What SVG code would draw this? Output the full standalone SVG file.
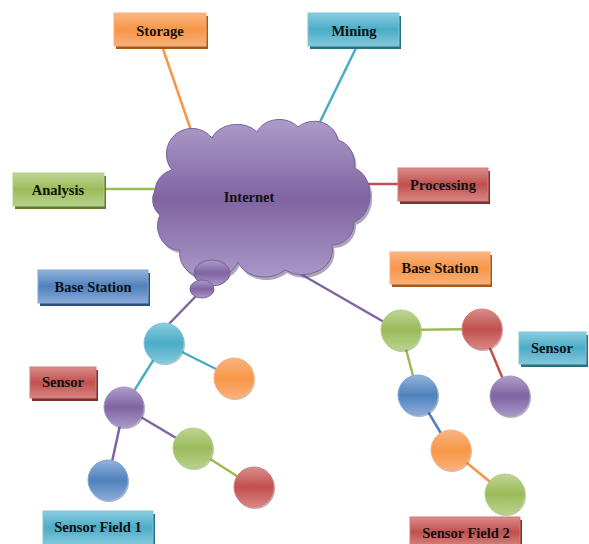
<svg xmlns="http://www.w3.org/2000/svg" width="589" height="544" viewBox="0 0 589 544">
<defs>
<linearGradient id="gOr" x1="0" y1="0" x2="0" y2="1"><stop offset="0" stop-color="#FAB583"/><stop offset="0.5" stop-color="#F79646"/><stop offset="1" stop-color="#F9AF7A"/></linearGradient>
<linearGradient id="gAq" x1="0" y1="0" x2="0" y2="1"><stop offset="0" stop-color="#8ACDE0"/><stop offset="0.5" stop-color="#4BACC6"/><stop offset="1" stop-color="#82C8DC"/></linearGradient>
<linearGradient id="gGr" x1="0" y1="0" x2="0" y2="1"><stop offset="0" stop-color="#BDD594"/><stop offset="0.5" stop-color="#9BBB59"/><stop offset="1" stop-color="#B8D28C"/></linearGradient>
<linearGradient id="gRd" x1="0" y1="0" x2="0" y2="1"><stop offset="0" stop-color="#DA8D8B"/><stop offset="0.5" stop-color="#C0504D"/><stop offset="1" stop-color="#D88683"/></linearGradient>
<linearGradient id="gBl" x1="0" y1="0" x2="0" y2="1"><stop offset="0" stop-color="#93B3DC"/><stop offset="0.5" stop-color="#4F81BD"/><stop offset="1" stop-color="#8AACD8"/></linearGradient>
<linearGradient id="gPu" x1="0" y1="0" x2="0" y2="1"><stop offset="0" stop-color="#AE9DCB"/><stop offset="0.5" stop-color="#8064A2"/><stop offset="1" stop-color="#A796C6"/></linearGradient>
<linearGradient id="gCloud" x1="0" y1="0" x2="0" y2="1"><stop offset="0" stop-color="#AC9CCA"/><stop offset="0.5" stop-color="#8064A2"/><stop offset="1" stop-color="#AA99C8"/></linearGradient>
<path id="cloud" d="M155,190 A22,22 0 0 1 172,170 A25,25 0 0 1 212,138 A26,20 0 0 1 257,132 A24,20 0 0 1 298,127 A24,22 0 0 1 338,140 A22,24 0 0 1 354,168 A22,28 0 0 1 354,222 A22,22 0 0 1 332,245 A30,25 0 0 1 285,270 A28,22 0 0 1 238,262 A30,25 0 0 1 180,250 A22,24 0 0 1 160,215 A20,20 0 0 1 155,190 Z"/>
<style>
.lbl{font-family:"Liberation Serif","Times New Roman",serif;font-weight:bold;font-size:14.5px;fill:#111;text-anchor:middle;dominant-baseline:central}
.circ{stroke-width:1}
.ln{stroke-width:2.5;fill:none}
</style>
</defs>

<g id="connectors">
<line class="ln" x1="162" y1="46" x2="195" y2="142" stroke="#F79646"/>
<line class="ln" x1="357" y1="46" x2="317" y2="128" stroke="#4BACC6"/>
<line class="ln" x1="104" y1="189" x2="158" y2="189" stroke="#9BBB59"/>
<line class="ln" x1="352" y1="184" x2="398" y2="184" stroke="#C0504D"/>
<line class="ln" x1="196" y1="296" x2="168" y2="325" stroke="#8064A2"/>
<line class="ln" x1="285" y1="265" x2="384" y2="322" stroke="#8064A2"/>
<line class="ln" x1="164" y1="343" x2="234" y2="378" stroke="#4BACC6"/>
<line class="ln" x1="164" y1="343" x2="124" y2="407" stroke="#4BACC6"/>
<line class="ln" x1="124" y1="407" x2="193" y2="448" stroke="#8064A2"/>
<line class="ln" x1="124" y1="407" x2="108" y2="480" stroke="#8064A2"/>
<line class="ln" x1="193" y1="448" x2="254" y2="487" stroke="#9BBB59"/>
<line class="ln" x1="401" y1="330" x2="482" y2="329" stroke="#9BBB59"/>
<line class="ln" x1="401" y1="330" x2="418" y2="395" stroke="#9BBB59"/>
<line class="ln" x1="482" y1="329" x2="510" y2="396" stroke="#C0504D"/>
<line class="ln" x1="418" y1="395" x2="451" y2="450" stroke="#4F81BD"/>
<line class="ln" x1="451" y1="450" x2="505" y2="494" stroke="#F79646"/>
</g>

<g id="internet">
<use href="#cloud" fill="#5E4A7A" transform="translate(2,3)" opacity="0.5"/>
<use href="#cloud" fill="url(#gCloud)" stroke="#7A6499" stroke-width="1"/>
<ellipse cx="212" cy="273" rx="18" ry="13" fill="url(#gCloud)" stroke="#7A6499"/>
<ellipse cx="202" cy="289" rx="12" ry="9" fill="url(#gCloud)" stroke="#7A6499"/>
<text class="lbl" x="249" y="197">Internet</text>
</g>

<g id="storage">
<rect x="116" y="16" width="92" height="33" fill="#A35A18"/>
<rect x="114" y="13" width="92" height="33" fill="url(#gOr)" stroke="#F9B07C"/>
<text class="lbl" x="160" y="31">Storage</text>
</g>
<g id="mining">
<rect x="310" y="16" width="91" height="33" fill="#2C6F80"/>
<rect x="308" y="13" width="91" height="33" fill="url(#gAq)" stroke="#7FC6DA"/>
<text class="lbl" x="354" y="31">Mining</text>
</g>
<g id="analysis">
<rect x="15" y="176" width="91" height="33" fill="#5E7A2E"/>
<rect x="13" y="173" width="91" height="33" fill="url(#gGr)" stroke="#B3CE85"/>
<text class="lbl" x="58" y="190">Analysis</text>
</g>
<g id="processing">
<rect x="400" y="171" width="90" height="33" fill="#7E2E2C"/>
<rect x="398" y="168" width="90" height="33" fill="url(#gRd)" stroke="#D47C79"/>
<text class="lbl" x="443" y="185">Processing</text>
</g>
<g id="base-station-1">
<rect x="40" y="273" width="110" height="33" fill="#2B4E7C"/>
<rect x="38" y="270" width="110" height="33" fill="url(#gBl)" stroke="#82A6D6"/>
<text class="lbl" x="93" y="287">Base Station</text>
</g>
<g id="base-station-2">
<rect x="392" y="255" width="100" height="32" fill="#A35A18"/>
<rect x="390" y="252" width="100" height="32" fill="url(#gOr)" stroke="#F9B07C"/>
<text class="lbl" x="440" y="268">Base Station</text>
</g>
<g id="sensor-1">
<rect x="32" y="370" width="66" height="31" fill="#7E2E2C"/>
<rect x="30" y="367" width="66" height="31" fill="url(#gRd)" stroke="#D47C79"/>
<text class="lbl" x="63" y="382">Sensor</text>
</g>
<g id="sensor-2">
<rect x="521" y="335" width="67" height="32" fill="#2C6F80"/>
<rect x="519" y="332" width="67" height="32" fill="url(#gAq)" stroke="#7FC6DA"/>
<text class="lbl" x="552" y="348">Sensor</text>
</g>
<g id="sensor-field-1">
<rect x="45" y="514" width="110" height="33" fill="#2C6F80"/>
<rect x="43" y="511" width="110" height="33" fill="url(#gAq)" stroke="#7FC6DA"/>
<text class="lbl" x="98" y="527">Sensor Field 1</text>
</g>
<g id="sensor-field-2">
<rect x="412" y="520" width="110" height="30" fill="#7E2E2C"/>
<rect x="410" y="517" width="110" height="30" fill="url(#gRd)" stroke="#D47C79"/>
<text class="lbl" x="466" y="533">Sensor Field 2</text>
</g>

<g id="n-cyan-1"><circle cx="165" cy="345" r="20" fill="#2C6F80" opacity="0.4"/><circle class="circ" cx="164" cy="343" r="20" fill="url(#gAq)" stroke="#7FC6DA"/></g>
<g id="n-orange-1"><circle cx="235" cy="380" r="20" fill="#A35A18" opacity="0.4"/><circle class="circ" cx="234" cy="378" r="20" fill="url(#gOr)" stroke="#F9B07C"/></g>
<g id="n-purple-1"><circle cx="125" cy="409" r="20" fill="#4B3A62" opacity="0.4"/><circle class="circ" cx="124" cy="407" r="20" fill="url(#gPu)" stroke="#A795C6"/></g>
<g id="n-green-1"><circle cx="194" cy="450" r="20" fill="#5E7A2E" opacity="0.4"/><circle class="circ" cx="193" cy="448" r="20" fill="url(#gGr)" stroke="#B3CE85"/></g>
<g id="n-blue-1"><circle cx="109" cy="482" r="20" fill="#2B4E7C" opacity="0.4"/><circle class="circ" cx="108" cy="480" r="20" fill="url(#gBl)" stroke="#82A6D6"/></g>
<g id="n-red-1"><circle cx="255" cy="489" r="20" fill="#7E2E2C" opacity="0.4"/><circle class="circ" cx="254" cy="487" r="20" fill="url(#gRd)" stroke="#D47C79"/></g>

<g id="n-green-2"><circle cx="402" cy="332" r="20" fill="#5E7A2E" opacity="0.4"/><circle class="circ" cx="401" cy="330" r="20" fill="url(#gGr)" stroke="#B3CE85"/></g>
<g id="n-red-2"><circle cx="483" cy="331" r="20" fill="#7E2E2C" opacity="0.4"/><circle class="circ" cx="482" cy="329" r="20" fill="url(#gRd)" stroke="#D47C79"/></g>
<g id="n-blue-2"><circle cx="419" cy="397" r="20" fill="#2B4E7C" opacity="0.4"/><circle class="circ" cx="418" cy="395" r="20" fill="url(#gBl)" stroke="#82A6D6"/></g>
<g id="n-purple-2"><circle cx="511" cy="398" r="20" fill="#4B3A62" opacity="0.4"/><circle class="circ" cx="510" cy="396" r="20" fill="url(#gPu)" stroke="#A795C6"/></g>
<g id="n-orange-2"><circle cx="452" cy="452" r="20" fill="#A35A18" opacity="0.4"/><circle class="circ" cx="451" cy="450" r="20" fill="url(#gOr)" stroke="#F9B07C"/></g>
<g id="n-green-3"><circle cx="506" cy="496" r="20" fill="#5E7A2E" opacity="0.4"/><circle class="circ" cx="505" cy="494" r="20" fill="url(#gGr)" stroke="#B3CE85"/></g>
</svg>
